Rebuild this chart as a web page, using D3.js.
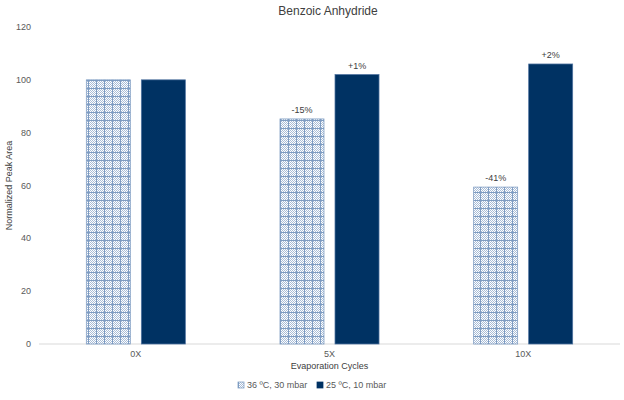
<!DOCTYPE html>
<html>
<head>
<meta charset="utf-8">
<script src="https://cdn.jsdelivr.net/npm/d3@7"></script>
<style>
  body { margin: 0; background: #fff; }
  text { font-family: 'Liberation Sans', Arial, sans-serif; }
</style>
</head>
<body>
<script>
// chart data
const categories = ['0X', '5X', '10X'];
const seriesNames = ['36 ºC, 30 mbar', '25 ºC, 10 mbar'];
const hotValues = [100, 85.2, 59.4];
const coldValues = [100, 102, 106];
const hotLabels = ['', '-15%', '-41%'];
const coldLabels = ['', '+1%', '+2%'];
const yTicks = [0, 20, 40, 60, 80, 100, 120];

// page dimensions
const width = 624
const height = 400
const plotLeft = 39
const plotRight = 620
const plotTop = 27
const plotBottom = 344

const solidColor = '#003263'
const hatchColor = '#7e9cc2'
const textColor = '#595959'

const svg = d3.select('body')
    .append('svg')
    .attr('width', width)
    .attr('height', height);

// checker + grid pattern for the first series
const defs = svg.append('defs');
const pat = defs.append('pattern')
    .attr('id', 'hatch')
    .attr('patternUnits', 'userSpaceOnUse')
    .attr('width', 8)
    .attr('height', 8);
pat.append('rect').attr('width', 8).attr('height', 8).attr('fill', '#fff');
for (let i = 0; i < 8; i++) {
    for (let j = 0; j < 8; j++) {
        if ((i + j) % 2 === 0) {
            pat.append('rect')
                .attr('x', i).attr('y', j)
                .attr('width', 1).attr('height', 1)
                .attr('fill', '#a9bdd7');
        }
    }
}
pat.append('rect').attr('x', 0).attr('y', 0).attr('width', 1).attr('height', 8).attr('fill', hatchColor);
pat.append('rect').attr('x', 0).attr('y', 0).attr('width', 8).attr('height', 1).attr('fill', hatchColor);

// scales
const x0 = d3.scaleBand()
    .domain(categories)
    .range([plotLeft, plotRight])
    .padding(0);

const x1 = d3.scaleBand()
    .domain(seriesNames)
    .range([0, x0.bandwidth()])
    .paddingInner(0.2)
    .paddingOuter(0.86);

const y = d3.scaleLinear()
    .domain([0, 120])
    .range([plotBottom, plotTop]);

// rows for the bars
const rows = [];
categories.forEach((c, i) => {
    rows.push({ cat: c, s: seriesNames[0], v: hotValues[i], label: hotLabels[i] });
    rows.push({ cat: c, s: seriesNames[1], v: coldValues[i], label: coldLabels[i] });
});

// baseline
svg.append('line')
    .attr('x1', plotLeft)
    .attr('x2', plotRight)
    .attr('y1', y(0))
    .attr('y2', y(0))
    .attr('stroke', '#d9d9d9')
    .attr('stroke-width', 1);

// y axis tick labels
svg.selectAll('.ytick')
    .data(yTicks)
    .enter()
    .append('text')
    .attr('class', 'ytick')
    .attr('x', 31)
    .attr('y', d => y(d))
    .attr('dy', '0.35em')
    .attr('text-anchor', 'end')
    .attr('font-size', '9px')
    .attr('fill', textColor)
    .text(d => d);

// bars
svg.selectAll('.bar')
    .data(rows)
    .enter()
    .append('rect')
    .attr('class', 'bar')
    .attr('x', d => x0(d.cat) + x1(d.s))
    .attr('y', d => y(d.v))
    .attr('width', x1.bandwidth())
    .attr('height', d => y(0) - y(d.v))
    .attr('fill', d => d.s === seriesNames[0] ? 'url(#hatch)' : solidColor)
    .attr('stroke', d => d.s === seriesNames[0] ? hatchColor : '#4f73a0')
    .attr('stroke-width', 0.75);

// data labels
svg.selectAll('.dlabel')
    .data(rows.filter(d => d.label !== ''))
    .enter()
    .append('text')
    .attr('class', 'dlabel')
    .attr('x', d => x0(d.cat) + x1(d.s) + x1.bandwidth() / 2)
    .attr('y', d => y(d.v) - 6)
    .attr('text-anchor', 'middle')
    .attr('font-size', '9px')
    .attr('fill', '#404040')
    .text(d => d.label);

// category labels
svg.selectAll('.xtick')
    .data(categories)
    .enter()
    .append('text')
    .attr('class', 'xtick')
    .attr('x', d => x0(d) + x0.bandwidth() / 2)
    .attr('y', 357)
    .attr('text-anchor', 'middle')
    .attr('font-size', '9px')
    .attr('fill', textColor)
    .text(d => d);

// title
svg.append('text')
    .attr('x', 328)
    .attr('y', 15)
    .attr('text-anchor', 'middle')
    .attr('font-size', '12px')
    .attr('fill', '#404040')
    .text('Benzoic Anhydride');

// axis titles
svg.append('text')
    .attr('x', x0(categories[1]) + x0.bandwidth() / 2)
    .attr('y', 369)
    .attr('text-anchor', 'middle')
    .attr('font-size', '9px')
    .attr('fill', '#404040')
    .text('Evaporation Cycles');

svg.append('text')
    .attr('transform', 'translate(12,' + y(60) + ') rotate(-90)')
    .attr('text-anchor', 'middle')
    .attr('font-size', '9px')
    .attr('fill', '#404040')
    .text('Normalized Peak Area');

// legend
const legendX = [238, 317];
const legend = svg.selectAll('.legend')
    .data(seriesNames)
    .enter()
    .append('g')
    .attr('class', 'legend')
    .attr('transform', (d, i) => 'translate(' + legendX[i] + ',388)');

legend.append('rect')
    .attr('x', 0)
    .attr('y', -6)
    .attr('width', 6)
    .attr('height', 6)
    .attr('fill', (d, i) => i === 0 ? 'url(#hatch)' : solidColor)
    .attr('stroke', (d, i) => i === 0 ? hatchColor : solidColor)
    .attr('stroke-width', 0.75);

legend.append('text')
    .attr('x', 9)
    .attr('y', 0)
    .attr('font-size', '9px')
    .attr('fill', textColor)
    .text(d => d);
</script>
</body>
</html>
